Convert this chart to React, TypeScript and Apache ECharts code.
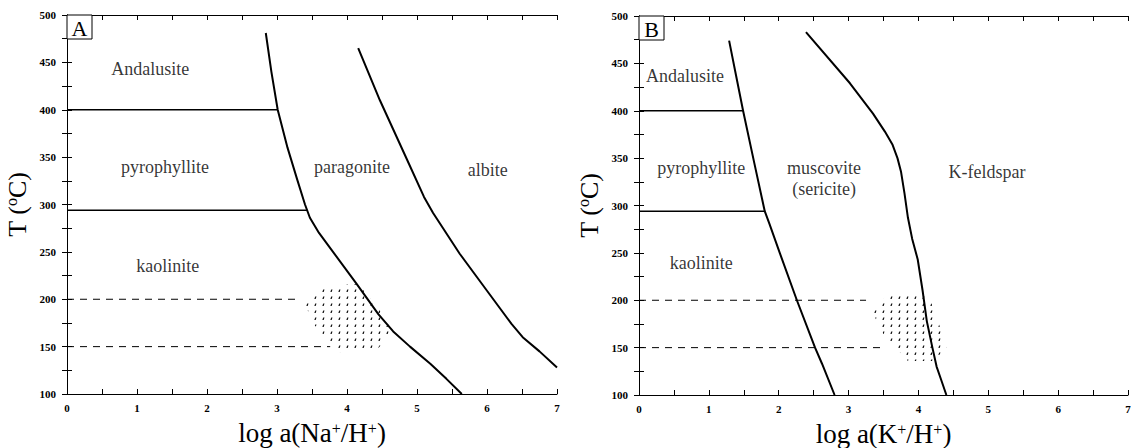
import React, { useEffect, useRef } from "react";
import * as echarts from "echarts";

// ---- data ----
const xTickValues = [0, 1, 2, 3, 4, 5, 6, 7];
const yTickValues = [100, 150, 200, 250, 300, 350, 400, 450, 500];

// Panel A (Na)
const curveA1 = [[2.84, 481], [2.92, 440], [3.01, 400], [3.15, 360], [3.29, 326], [3.4, 300], [3.47, 286], [3.6, 270], [3.8, 250], [4.14, 216], [4.45, 184], [4.66, 166], [4.9, 150], [5.19, 132], [5.42, 116], [5.64, 100]];
const curveA2 = [[4.16, 465], [4.47, 410], [4.86, 347], [5.1, 308], [5.23, 291], [5.61, 248], [6.0, 209], [6.35, 174], [6.51, 160], [6.75, 145], [7.0, 128]];
const lineA400 = [[0, 400], [3.01, 400]];
const lineA294 = [[0, 294], [3.43, 294]];
const dashA200 = [[0, 200], [3.28, 200]];
const dashA150 = [[0, 150], [3.76, 150]];
const hatchA = [[3.66, 214], [4.16, 216], [4.47, 188], [4.66, 167], [4.42, 146], [3.9, 144], [3.52, 174], [3.4, 195]];
const labelsA = [
  { name: "Andalusite", value: [1.19, 443] },
  { name: "pyrophyllite", value: [1.4, 340] },
  { name: "kaolinite", value: [1.44, 235] },
  { name: "paragonite", value: [4.07, 340] },
  { name: "albite", value: [6.01, 336] },
];

// Panel B (K)
const curveB1 = [[1.29, 474], [1.39, 437], [1.49, 400], [1.65, 345], [1.8, 294], [1.87, 280], [2.02, 249], [2.26, 200], [2.52, 150], [2.62, 133], [2.8, 100]];
const curveB2 = [[2.39, 483], [3.02, 429], [3.35, 397], [3.52, 378], [3.63, 364], [3.7, 350], [3.75, 336], [3.8, 313], [3.85, 287], [3.91, 265], [3.99, 243], [4.06, 210], [4.12, 178], [4.2, 150], [4.26, 130], [4.33, 115], [4.4, 100]];
const lineB400 = [[0, 400], [1.49, 400]];
const lineB294 = [[0, 294], [1.8, 294]];
const dashB200 = [[0, 200], [3.25, 200]];
const dashB150 = [[0, 150], [3.45, 150]];
const hatchB = [[3.57, 206], [4.14, 206], [4.28, 178], [4.4, 150], [4.21, 136], [3.85, 136], [3.5, 164], [3.33, 189]];
const labelsB = [
  { name: "Andalusite", value: [0.66, 437] },
  { name: "pyrophyllite", value: [0.89, 340] },
  { name: "kaolinite", value: [0.89, 239] },
  { name: "muscovite\n(sericite)", value: [2.65, 328] },
  { name: "K-feldspar", value: [4.98, 335] },
];

const FONT = "'Liberation Serif', 'Times New Roman', serif";

function makePattern() {
  const c = document.createElement("canvas");
  c.width = 8;
  c.height = 7;
  const ctx = c.getContext("2d")!;
  ctx.fillStyle = "#111";
  ctx.beginPath();
  ctx.moveTo(2.4, 5.0);
  ctx.lineTo(3.7, 5.0);
  ctx.lineTo(4.5, 2.4);
  ctx.lineTo(3.2, 2.4);
  ctx.closePath();
  ctx.fill();
  return c;
}

export default function App() {
  const ref = useRef<HTMLDivElement>(null);
  useEffect(() => {
    if (!ref.current) return;
    const chart = echarts.init(ref.current, undefined, { renderer: "svg" });
    const pattern = { image: makePattern(), repeat: "repeat" };

    const xFmt = (v: number) => (xTickValues.includes(v) ? String(v) : "");
    const yFmt = (v: number) => (yTickValues.includes(v) ? String(v) : "");
    const axisLine = { show: true, lineStyle: { color: "#000", width: 1 } };
    const tick = { show: true, inside: true, length: 5, lineStyle: { color: "#000", width: 1 } };
    const labelStyle = { fontFamily: FONT, fontSize: 11, fontWeight: "bold", color: "#000" };

    const xName = (ion: string) => `log a(${ion}{sup|+}/H{sup|+})`;
    const nameRich = {
      sup: { fontFamily: FONT, fontSize: 16, verticalAlign: "top", lineHeight: 26, color: "#000" },
    };

    const mkX = (grid: number, name: string) => [
      {
        type: "value", gridIndex: grid, min: 0, max: 7, interval: 0.5, position: "bottom",
        axisLine, axisTick: tick, splitLine: { show: false },
        axisLabel: { ...labelStyle, margin: 8, formatter: xFmt },
        name, nameLocation: "middle", nameGap: 26,
        nameTextStyle: { fontFamily: FONT, fontSize: 27, color: "#000", lineHeight: 26, rich: nameRich },
      },
      {
        type: "value", gridIndex: grid, min: 0, max: 7, interval: 0.5, position: "top",
        axisLine, axisTick: tick, splitLine: { show: false }, axisLabel: { show: false },
      },
    ];
    const mkY = (grid: number) => [
      {
        type: "value", gridIndex: grid, min: 100, max: 500, interval: 25, position: "left",
        axisLine, axisTick: tick, splitLine: { show: false },
        axisLabel: { ...labelStyle, margin: 11, formatter: yFmt },
        name: "T ({sup|o}C)", nameLocation: "middle", nameGap: 36, nameRotate: 90,
        nameTextStyle: { fontFamily: FONT, fontSize: 26, color: "#000", lineHeight: 28, rich: { sup: { ...nameRich.sup, lineHeight: 28 } } },
      },
      {
        type: "value", gridIndex: grid, min: 100, max: 500, interval: 25, position: "right",
        axisLine, axisTick: tick, splitLine: { show: false }, axisLabel: { show: false },
      },
    ];

    const line = (data: number[][], ax: number, width: number, dashed = false) => ({
      type: "line", xAxisIndex: ax, yAxisIndex: ax, data, showSymbol: false, symbol: "none",
      smooth: false,
      lineStyle: { color: "#000", width, type: dashed ? [7, 6] : "solid", join: "round" },
      silent: true, z: 3,
    });
    const hatch = (poly: number[][], ax: number) => ({
      type: "custom", xAxisIndex: ax, yAxisIndex: ax, data: [0], silent: true, z: 1,
      renderItem: (_p: any, api: any) => ({
        type: "polygon",
        shape: { points: poly.map((p) => api.coord(p)) },
        style: { fill: pattern, stroke: null },
      }),
    });
    const labels = (data: any[], ax: number) => ({
      type: "scatter", xAxisIndex: ax, yAxisIndex: ax, data, symbolSize: 1, silent: true, z: 4,
      itemStyle: { color: "rgba(0,0,0,0)" },
      label: {
        show: true, position: "inside", formatter: (p: any) => p.name,
        fontFamily: FONT, fontSize: 18, color: "#000", lineHeight: 21,
      },
    });

    const box = (x: number, y: number, t: string) => [
      { type: "rect", shape: { x, y, width: 25, height: 24 }, style: { fill: "#fff", stroke: "#000", lineWidth: 1 }, z: 10 },
      {
        type: "text", x: x + 12.5, y: y + 13, z: 11,
        style: { text: t, fontFamily: FONT, fontSize: 22, fill: "#000", align: "center", verticalAlign: "middle", textAlign: "center", textVerticalAlign: "middle" },
      },
    ];

    chart.setOption({
      animation: false,
      backgroundColor: "#fff",
      grid: [
        { left: 67, top: 15, width: 490, height: 379, outerBoundsMode: "none", containLabel: false },
        { left: 639, top: 16, width: 489, height: 379, outerBoundsMode: "none", containLabel: false },
      ],
      xAxis: [...mkX(0, xName("Na")), ...mkX(1, xName("K"))],
      yAxis: [...mkY(0), ...mkY(1)],
      series: [
        hatch(hatchA, 0),
        line(curveA1, 0, 2),
        line(curveA2, 0, 2),
        line(lineA400, 0, 1.6),
        line(lineA294, 0, 1.6),
        line(dashA200, 0, 1, true),
        line(dashA150, 0, 1, true),
        labels(labelsA, 0),
        hatch(hatchB, 2),
        line(curveB1, 2, 2),
        line(curveB2, 2, 2),
        line(lineB400, 2, 1.6),
        line(lineB294, 2, 1.6),
        line(dashB200, 2, 1, true),
        line(dashB150, 2, 1, true),
        labels(labelsB, 2),
      ],
      graphic: [...box(67, 15, "A"), ...box(639, 16, "B")],
    });
    return () => chart.dispose();
  }, []);
  return <div ref={ref} style={{ position: "absolute", left: 0, top: 0, width: 1131, height: 448 }} />;
}
